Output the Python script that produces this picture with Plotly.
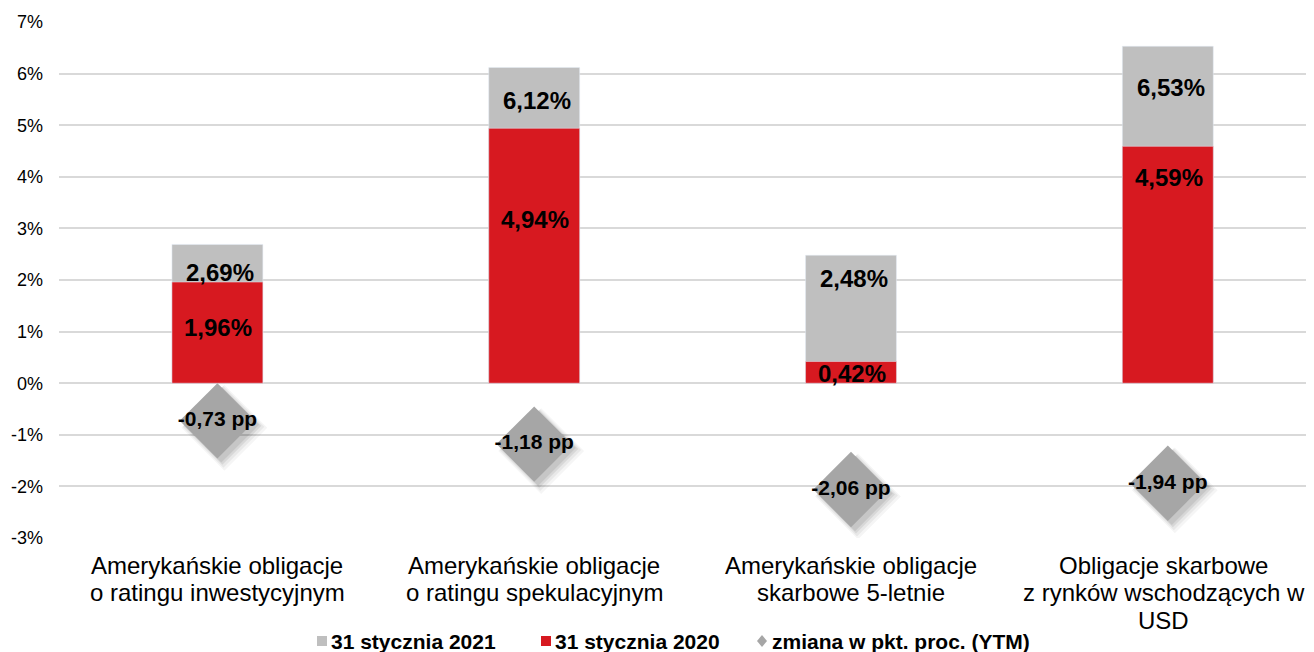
import plotly.graph_objects as go

# ---- data ----
categories = [
    "Amerykańskie obligacje<br>o ratingu inwestycyjnym",
    "Amerykańskie obligacje<br>o ratingu spekulacyjnym",
    "Amerykańskie obligacje<br>skarbowe 5-letnie",
    "Obligacje skarbowe<br>z rynków wschodzących w<br>USD",
]
ytm_2021 = [2.69, 6.12, 2.48, 6.53]
ytm_2020 = [1.96, 4.94, 0.42, 4.59]
change_pp = [-0.73, -1.18, -2.06, -1.94]
series_names = ["31 stycznia 2021", "31 stycznia 2020", "zmiana w pkt. proc. (YTM)"]
y_tick_vals = [-3, -2, -1, 0, 1, 2, 3, 4, 5, 6, 7]
y_tick_text = ["-3%", "-2%", "-1%", "0%", "1%", "2%", "3%", "4%", "5%", "6%", "7%"]

# label placement (y in axis units where each bar label sits)
lab_pos_2021 = [2.15, 5.48, 2.02, 5.74]
lab_pos_2020 = [1.085, 3.18, 0.19, 3.99]

# ---- styles ----
FONT = "Arial, Liberation Sans, sans-serif"
GREY = "#BFBFBF"
RED = "#D71920"
DIAMOND = "#A6A6A6"
GRID = "#D9D9D9"

OFF = 8  # page body margin of the html page
PAGE_W, PAGE_H = 1314, 652
W, H = PAGE_W - OFF, PAGE_H - OFF
PLOT_L, PLOT_T, PLOT_B = 59, 22, 538          # page pixels
ML, MR, MT, MB = PLOT_L - OFF, 0, PLOT_T - OFF, H - (PLOT_B - OFF)
PW, PH = W - ML - MR, H - MT - MB
PITCH = 316.8
X_RANGE = [-0.5, -0.5 + PW / PITCH]
Y_RANGE = [-3, 7]

x = list(range(len(categories)))


def fmt(v):
    return f"{v:.2f}".replace(".", ",")


def xp(px):  # page px -> paper
    return (px - PLOT_L) / PW


def yp(py):  # page px -> paper
    return (PLOT_B - py) / PH


fig = go.Figure()

fig.add_trace(go.Bar(x=x, y=ytm_2021, name=series_names[0], marker_color=GREY,
                     width=0.287, hoverinfo="skip"))
fig.add_trace(go.Bar(x=x, y=ytm_2020, name=series_names[1], marker_color=RED,
                     width=0.287, hoverinfo="skip"))

# soft shadow for diamonds (offset to lower right)
px_x = (X_RANGE[1] - X_RANGE[0]) / PW
px_y = (Y_RANGE[1] - Y_RANGE[0]) / PH
for off, extra, alpha in [(7, 8, 0.04), (6, 5, 0.05), (5, 2, 0.07), (4, 0, 0.08)]:
    fig.add_trace(go.Scatter(
        x=[xi + off * px_x for xi in x],
        y=[v - off * px_y for v in change_pp],
        mode="markers",
        marker=dict(symbol="diamond", size=58 + extra, color=f"rgba(0,0,0,{alpha})",
                    line=dict(width=0)),
        showlegend=False, hoverinfo="skip"))

fig.add_trace(go.Scatter(
    x=x, y=change_pp, name=series_names[2], mode="markers+text",
    marker=dict(symbol="diamond", size=58, color=DIAMOND, line=dict(width=0)),
    text=[fmt(v) + " pp" for v in change_pp],
    textposition="middle center",
    textfont=dict(family=FONT, size=21, color="black", weight="bold"),
    hoverinfo="skip"))

annotations = []
for i in x:
    annotations.append(dict(x=i, y=lab_pos_2021[i], xref="x", yref="y", xshift=3,
                            text=f"<b>{fmt(ytm_2021[i])}%</b>", showarrow=False,
                            font=dict(family=FONT, size=24, color="black")))
    annotations.append(dict(x=i, y=lab_pos_2020[i], xref="x", yref="y", xshift=1,
                            text=f"<b>{fmt(ytm_2020[i])}%</b>", showarrow=False,
                            font=dict(family=FONT, size=24, color="black")))

# category labels (one annotation per line for Excel-like line spacing)
for i, cat in enumerate(categories):
    for k, line in enumerate(cat.split("<br>")):
        annotations.append(dict(x=i, y=yp(565 + 27.5 * k), xref="x", yref="paper",
                                yanchor="middle", showarrow=False, text=line,
                                xshift=-4 if i == len(categories) - 1 else 0,
                                font=dict(family=FONT, size=24, color="black")))

# ---- custom legend ----
shapes = []
legend_items = [
    (317, 329, "square", GREY, series_names[0]),
    (541, 553, "square", RED, series_names[1]),
    (757, 770, "diamond", DIAMOND, series_names[2]),
]
for sx, tx, kind, col, name in legend_items:
    if kind == "square":
        shapes.append(dict(type="rect", xref="paper", yref="paper",
                           x0=xp(sx), x1=xp(sx + 10), y0=yp(646), y1=yp(636),
                           fillcolor=col, line=dict(width=0)))
    else:
        cx, cy = sx + 5, 641
        path = (f"M {xp(cx)} {yp(cy - 6)} L {xp(cx + 5)} {yp(cy)} "
                f"L {xp(cx)} {yp(cy + 6)} L {xp(cx - 5)} {yp(cy)} Z")
        shapes.append(dict(type="path", xref="paper", yref="paper", path=path,
                           fillcolor=col, line=dict(width=0)))
    annotations.append(dict(x=xp(tx), y=yp(641), xref="paper", yref="paper",
                            xanchor="left", yanchor="middle", showarrow=False,
                            text=f"<b>{name}</b>",
                            font=dict(family=FONT, size=21, color="black")))

fig.update_layout(
    width=W, height=H,
    margin=dict(l=ML, r=MR, t=MT, b=MB),
    paper_bgcolor="white", plot_bgcolor="white",
    barmode="overlay",
    showlegend=False,
    font=dict(family=FONT, color="black"),
    annotations=annotations,
    shapes=shapes,
    xaxis=dict(range=X_RANGE, tickvals=x, showticklabels=False, showgrid=False,
               zeroline=False, showline=False, ticks=""),
    yaxis=dict(range=Y_RANGE, tickvals=y_tick_vals, ticktext=y_tick_text,
               showgrid=True, gridcolor=GRID, gridwidth=1.5, zeroline=False,
               showline=False, ticks="", ticklabelstandoff=15,
               tickfont=dict(family=FONT, size=18, color="black")),
)

fig.write_html("out.html")
